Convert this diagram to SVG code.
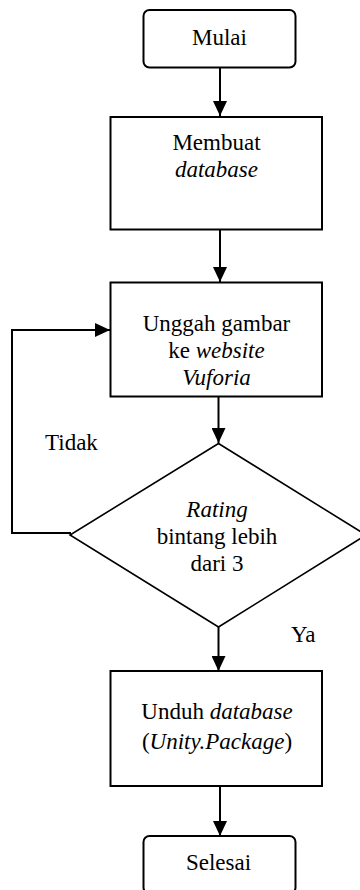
<svg xmlns="http://www.w3.org/2000/svg" width="360" height="890" viewBox="0 0 360 890">
<style>
text{font-family:"Liberation Serif","Times New Roman",serif;font-size:23px;fill:#000;text-anchor:middle}
.i{font-style:italic}
.box{fill:#fff;stroke:#000;stroke-width:2}
.dia{fill:#fff;stroke:#000;stroke-width:1.6}
.con{fill:none;stroke:#000;stroke-width:2}
</style>
<defs>
<marker id="ah" markerUnits="userSpaceOnUse" markerWidth="15" markerHeight="14" refX="15" refY="7" orient="auto">
<path d="M0,0 L15,7 L0,14 z" fill="#000"/>
</marker>
</defs>
<rect width="360" height="890" fill="#fff"/>
<g id="connectors">
<line class="con" x1="220" y1="68" x2="220" y2="116" marker-end="url(#ah)"/>
<line class="con" x1="220" y1="230" x2="220" y2="282" marker-end="url(#ah)"/>
<line class="con" x1="218.5" y1="397" x2="218.5" y2="443" marker-end="url(#ah)"/>
<polyline class="con" points="71,533 12,533 12,330 110,330" marker-end="url(#ah)"/>
<line class="con" x1="218.5" y1="627" x2="218.5" y2="671" marker-end="url(#ah)"/>
<line class="con" x1="220" y1="786" x2="220" y2="836" marker-end="url(#ah)"/>
<text x="45" y="450" style="text-anchor:start">Tidak</text>
<text x="291" y="642" style="text-anchor:start">Ya</text>
</g>
<g id="mulai">
<rect class="box" x="143.5" y="10" width="152" height="57.5" rx="6"/>
<text x="219.5" y="45">Mulai</text>
</g>
<g id="membuat">
<rect class="box" x="110.5" y="117" width="211.5" height="112.5"/>
<text x="216.5" y="150">Membuat</text>
<text x="216.5" y="177" class="i">database</text>
</g>
<g id="unggah">
<rect class="box" x="110.5" y="282.5" width="211.5" height="114"/>
<text x="216.5" y="331">Unggah gambar</text>
<text x="216.5" y="358">ke <tspan class="i">website</tspan></text>
<text x="216.5" y="385" class="i">Vuforia</text>
</g>
<g id="rating">
<polygon class="dia" points="218.5,443.5 366,535 218.5,627 70,535"/>
<text x="217" y="517" class="i">Rating</text>
<text x="217" y="544">bintang lebih</text>
<text x="217" y="571">dari 3</text>
</g>
<g id="unduh">
<rect class="box" x="110.5" y="671" width="211.5" height="115"/>
<text x="217" y="719">Unduh <tspan class="i">database</tspan></text>
<text x="217" y="749">(<tspan class="i">Unity.Package</tspan>)</text>
</g>
<g id="selesai">
<rect class="box" x="143.5" y="836" width="152" height="57.5" rx="6"/>
<text x="218.5" y="870">Selesai</text>
</g>
</svg>
